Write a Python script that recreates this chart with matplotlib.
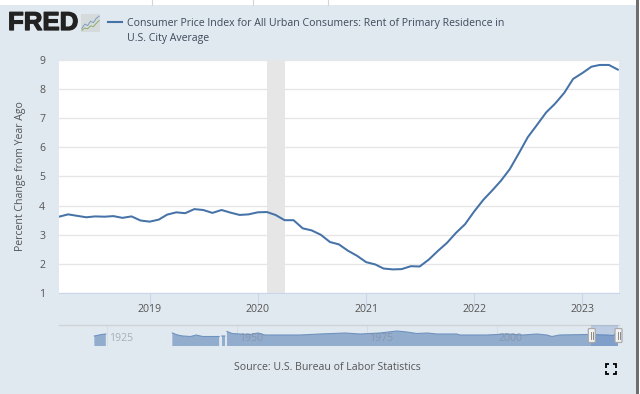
import numpy as np
import pandas as pd
import matplotlib
matplotlib.use('Agg')
import matplotlib.pyplot as plt
import matplotlib.patheffects as pe
from matplotlib.patches import Rectangle, FancyBboxPatch

# Rent of primary residence, percent change from year ago, Mar 2018 - May 2023
start_month = '2018-03-01'
rent_change = [3.62, 3.70, 3.65, 3.60, 3.63, 3.62, 3.64, 3.58, 3.63, 3.49,
               3.45, 3.52, 3.69, 3.77, 3.74, 3.88, 3.85, 3.75, 3.85, 3.76,
               3.68, 3.70, 3.77, 3.78, 3.68, 3.50, 3.50, 3.22, 3.15, 3.00,
               2.75, 2.67, 2.45, 2.28, 2.06, 1.98, 1.84, 1.81, 1.82, 1.92,
               1.91, 2.15, 2.45, 2.72, 3.07, 3.36, 3.80, 4.20, 4.50, 4.85,
               5.25, 5.80, 6.35, 6.77, 7.20, 7.50, 7.87, 8.35, 8.55, 8.77,
               8.83, 8.83, 8.67]
y_ticks = [1, 2, 3, 4, 5, 6, 7, 8, 9]
x_ticks = ['2019-01-01', '2020-01-01', '2021-01-01', '2022-01-01', '2023-01-01']
x_labels = ['2019', '2020', '2021', '2022', '2023']
recession = ['2020-02-01', '2020-04-01']

# navigator strip, full history (nan = gap in the series)
nav_years = [1922.6, 1924.0, 1924.8, np.nan,
             1937.6, 1938.6, 1939.6, 1941.1, 1942.2, 1943.4, 1946.6, np.nan,
             1947.1, 1947.7, np.nan,
             1948.1, 1949.1, 1950.6, 1952.5, 1954.1, 1955.4, 1958.3, 1962.1,
             1966.0, 1970.8, 1973.7, 1977.5, 1980.8, 1982.7, 1984.6, 1986.6,
             1988.5, 1992.3, 1992.9, 1998.1, 2001.9, 2005.0, 2007.7, 2009.6,
             2010.6, 2012.1, 2017.3, 2021.2, 2022.3, 2023.3]
nav_level = [10.0, 11.5, 12.0, np.nan,
             13.0, 11.0, 10.0, 9.5, 11.0, 9.5, 9.5, np.nan,
             10.0, 10.0, np.nan,
             14.5, 12.5, 12.0, 11.5, 13.0, 11.0, 11.0, 11.0,
             12.0, 13.0, 12.0, 13.0, 15.0, 14.0, 12.5, 13.0,
             12.0, 12.0, 11.0, 11.0, 12.0, 11.0, 12.0, 11.0,
             9.5, 11.0, 11.5, 11.0, 10.5, 13.0]
nav_ticks = [1925, 1950, 1975, 2000]
nav_window = [2018.17, 2023.37]

# logo sparkline shapes
logo_x = [0, 1, 2, 3, 4, 5, 6]
logo_blue = [1.0, 2.2, 1.8, 3.0, 2.6, 3.8, 4.4]
logo_green = [0.5, 1.1, 0.9, 1.7, 1.5, 2.4, 3.2]

panel = '#e1e9f0'
blue = '#4572a7'
grey_text = '#555555'
plt.rcParams['font.family'] = ['Open Sans', 'DejaVu Sans']

W, H = 640, 394
fig = plt.figure(figsize=(W / 100, H / 100), dpi=100, facecolor='white')


def box(left, top, right, bottom):
    return [left / W, 1 - bottom / H, (right - left) / W, (bottom - top) / H]


# page chrome in pixel coordinates
bg = fig.add_axes([0, 0, 1, 1])
bg.set_xlim(0, W)
bg.set_ylim(H, 0)
bg.axis('off')
bg.add_patch(Rectangle((0, 4.5), 635.5, 389.5, color=panel, lw=0))
bg.add_patch(Rectangle((635.5, 0), 3, H, color='#6e6e6e', lw=0))
for x in [151.5, 252.5, 327.5]:
    bg.plot([x, x], [0, 4.5], color='#d5d5d5', lw=0.8)

bg.text(8, 23, 'FRED', family=['Liberation Sans', 'DejaVu Sans'], weight='bold',
        fontsize=18.6, color='#222222', va='center', ha='left',
        path_effects=[pe.withStroke(linewidth=0.9, foreground='#222222')])
bg.plot([108, 122], [22, 22], color=blue, lw=1.5)
bg.text(127, 23, 'Consumer Price Index for All Urban Consumers: Rent of Primary Residence in',
        fontsize=7.55, color='#3d4a5c', va='center')
bg.text(127, 38, 'U.S. City Average', fontsize=7.55, color='#3d4a5c', va='center')
bg.text(20.5, 176, 'Percent Change from Year Ago', rotation=90, fontsize=7.6,
        color=grey_text, va='center', ha='center')
bg.text(327, 367, 'Source: U.S. Bureau of Labor Statistics', fontsize=7.6,
        color=grey_text, va='center', ha='center')

# fullscreen icon
for cx, cy, sx, sy in [(605.5, 364, 1, 1), (616, 364, -1, 1), (605.5, 374, 1, -1), (616, 374, -1, -1)]:
    bg.plot([cx + 3.5 * sx, cx, cx], [cy, cy, cy + 3.5 * sy], color='black', lw=1.3,
            solid_capstyle='butt', solid_joinstyle='miter')

# logo icon
bg.add_patch(Rectangle((81, 14), 19, 18, color='#d5dadb', lw=0))
logo = fig.add_axes(box(81, 14, 100, 32), facecolor='none')
logo.plot(logo_x, logo_blue, color='#7f9cc0', lw=0.7)
logo.plot(logo_x, logo_green, color='#8fae6a', lw=0.7)
logo.set_xlim(-0.3, 6.3)
logo.set_ylim(0, 5)
logo.axis('off')

# main chart
dates = pd.date_range(start_month, periods=len(rent_change), freq='MS')
ax = fig.add_axes(box(59, 60, 619, 293), facecolor='white')
ax.set_axisbelow(True)
ax.grid(axis='y', color='#e6e6e6', lw=1)
ax.axvspan(pd.Timestamp(recession[0]), pd.Timestamp(recession[1]), color='#e6e6e6', lw=0, zorder=1.5)
ax.plot(dates, rent_change, color=blue, lw=1.45, zorder=3)
ax.set_ylim(1, 9)
ax.set_xlim(pd.Timestamp('2018-03-01'), pd.Timestamp('2023-05-05'))
ax.set_yticks(y_ticks)
ax.set_xticks(pd.to_datetime(x_ticks))
ax.set_xticklabels(x_labels)
ax.tick_params(axis='y', length=0, labelsize=7.6, labelcolor=grey_text, pad=10)
ax.tick_params(axis='x', length=10, width=0.8, color='#ccd6eb', labelsize=7.6,
               labelcolor=grey_text, pad=-2, direction='out')
for s in ['top', 'left', 'right']:
    ax.spines[s].set_visible(False)
ax.spines['bottom'].set_color('#ccd6eb')
ax.spines['bottom'].set_linewidth(0.8)

# navigator
nav = fig.add_axes(box(59, 324.5, 619, 346), facecolor='none')
nav.set_xlim(1915.8, 2023.5)
nav.set_ylim(0, 21.5)
nav_y = np.array(nav_level)
nav.fill_between(nav_years, 0, nav_y, color='#92acce', lw=0, zorder=2)
nav.plot(nav_years, nav_y, color='#6f93bf', lw=0.8, zorder=2)
nav.axvspan(nav_window[0], nav_window[1], color='#4a78c0', alpha=0.25, lw=0, zorder=3)
for yr in nav_ticks:
    nav.axvline(yr, color='#d8dde2', lw=0.7, zorder=1)
    nav.text(yr + 0.4, 7.5, str(yr), fontsize=7.6, color='#7f8a95', alpha=0.6,
             va='center', ha='left', zorder=4)
nav.set_xticks([])
nav.set_yticks([])
for s in ['left', 'right', 'bottom']:
    nav.spines[s].set_visible(False)
nav.spines['top'].set_color('#cfd3d6')
nav.spines['top'].set_linewidth(1)

# navigator handles drawn over everything
top = fig.add_axes([0, 0, 1, 1], facecolor='none')
top.set_xlim(0, W)
top.set_ylim(H, 0)
top.axis('off')
for hx in [591.8, 618.5]:
    top.add_patch(FancyBboxPatch((hx - 3.5, 328.5), 7, 14, boxstyle='round,pad=0,rounding_size=1.2',
                                 fc='#f2f2f2', ec='#aaaaaa', lw=0.9))
    for dx in [-1, 1]:
        top.plot([hx + dx, hx + dx], [332, 339], color='#8a8a8a', lw=0.7)

fig.savefig('out.png', dpi=100)
